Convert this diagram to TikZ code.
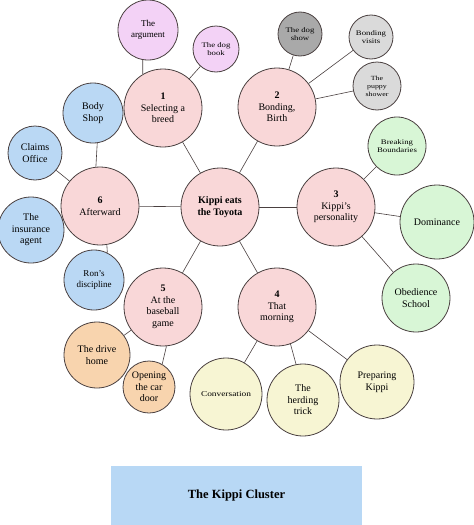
\documentclass[tikz,border=0pt]{standalone}
\usepackage{fontspec}
\setmainfont{Liberation Serif}
\newfontfamily\widefont{Liberation Serif}[FakeStretch=1.25]
\definecolor{edge}{HTML}{4A4040}
\definecolor{mainpink}{HTML}{F9D7D8}
\definecolor{lav}{HTML}{F3D2F6}
\definecolor{dgray}{HTML}{A9A9A9}
\definecolor{lgray}{HTML}{DADADA}
\definecolor{lgreen}{HTML}{D8F6D6}
\definecolor{lblue}{HTML}{BAD8F4}
\definecolor{lorange}{HTML}{F8D4AE}
\definecolor{lyellow}{HTML}{F7F5D3}
\definecolor{titleblue}{HTML}{B8D8F5}
\tikzset{
  bub/.style={circle, draw=edge, line width=0.8pt, inner sep=0pt, align=center,
    font=\fontsize{10}{11.5}\selectfont},
  mainbub/.style={bub, fill=mainpink, minimum size=78pt},
  rad/.style={minimum size=#1*2pt},
  sttext/.style={font=\widefont\fontsize{7}{8.5}\selectfont},
  tinytext/.style={font=\widefont\fontsize{6.3}{8}\selectfont},
  midtext/.style={font=\fontsize{9}{10.5}\selectfont},
  link/.style={draw=edge, line width=0.6pt},
}
\begin{document}
\begin{tikzpicture}[x=1pt,y=-1pt]
\useasboundingbox (0,0) rectangle (474,525);
% main nodes
\node[mainbub] (c)  at (220,207) {\textbf{Kippi eats}\\\textbf{the Toyota}};
\node[mainbub] (n1) at (163,108) {\textbf{1}\\Selecting a\\breed};
\node[mainbub] (n2) at (277,107) {\textbf{2}\\Bonding,\\Birth};
\node[mainbub] (n3) at (336,207) {\textbf{3}\\Kippi's\\personality};
\node[mainbub] (n4) at (277,307) {\textbf{4}\\That\\morning};
\node[mainbub] (n5) at (163,307) {\textbf{5}\\At the\\baseball\\game};
\node[mainbub] (n6) at (100,206) {\textbf{6}\\Afterward};
% cluster 1
\node[bub, fill=lav, rad=30, midtext] (arg) at (148,30) {The\\argument};
\node[bub, fill=lav, rad=23, sttext] (dogbook) at (216,49) {The dog\\book};
% cluster 2
\node[bub, fill=dgray, rad=22, sttext] (dogshow) at (300,34) {The dog\\show};
\node[bub, fill=lgray, rad=22, sttext] (visits) at (371,37) {Bonding\\visits};
\node[bub, fill=lgray, rad=24, tinytext] (puppy) at (377,86) {The\\puppy\\shower};
% cluster 3
\node[bub, fill=lgreen, rad=29, sttext] (brk) at (397,146) {Breaking\\Boundaries};
\node[bub, fill=lgreen, rad=37] (dom) at (437,222) {Dominance};
\node[bub, fill=lgreen, rad=34] (obd) at (416,298) {Obedience\\School};
% cluster 6
\node[bub, fill=lblue, rad=30] (body) at (93,113) {Body\\Shop};
\node[bub, fill=lblue, rad=27] (claims) at (35,153) {Claims\\Office};
\node[bub, fill=lblue, rad=33] (ins) at (31,230) {The\\insurance\\agent};
\node[bub, fill=lblue, rad=30, midtext] (rons) at (94,280) {Ron's\\discipline};
% cluster 5
\node[bub, fill=lorange, rad=33] (drive) at (97,355) {The drive\\home};
\node[bub, fill=lorange, rad=26] (door) at (149,387) {Opening\\the car\\door};
% cluster 4
\node[bub, fill=lyellow, rad=36, font=\widefont\fontsize{7.5}{9}\selectfont] (conv) at (226,394) {Conversation};
\node[bub, fill=lyellow, rad=36] (herd) at (303,400) {The\\herding\\trick};
\node[bub, fill=lyellow, rad=37] (prep) at (377,382) {Preparing\\Kippi};
% title
\node[fill=titleblue, minimum width=251pt, minimum height=59pt, inner sep=0pt,
  font=\bfseries\fontsize{12.5}{14}\selectfont] (title) at (236.5,495.5) {The Kippi Cluster};
% connectors
\path[link] (c) -- (n1);
\path[link] (c) -- (n2);
\path[link] (c) -- (n3);
\path[link] (c) -- (n4);
\path[link] (c) -- (n5);
\path[link] (c) -- (n6);
\path[link] (arg.-100) -- (n1.121);
\path[link] (dogbook) -- (n1);
\path[link] (dogshow) -- (n2);
\path[link] (visits) -- (n2);
\path[link] (puppy) -- (n2);
\path[link] (brk) -- (n3);
\path[link] (dom) -- (n3);
\path[link] (obd) -- (n3);
\path[link] (body.-82) -- (n6.96);
\path[link] (claims) -- (n6);
\path[link] (ins) -- (n6);
\path[link] (n6.-80) -- (rons.64);
\path[link] (drive) -- (n5);
\path[link] (n5.-85) -- (door.60);
\path[link] (conv) -- (n4);
\path[link] (n4.-70) -- (herd.101);
\path[link] (prep) -- (n4);
\end{tikzpicture}
\end{document}
